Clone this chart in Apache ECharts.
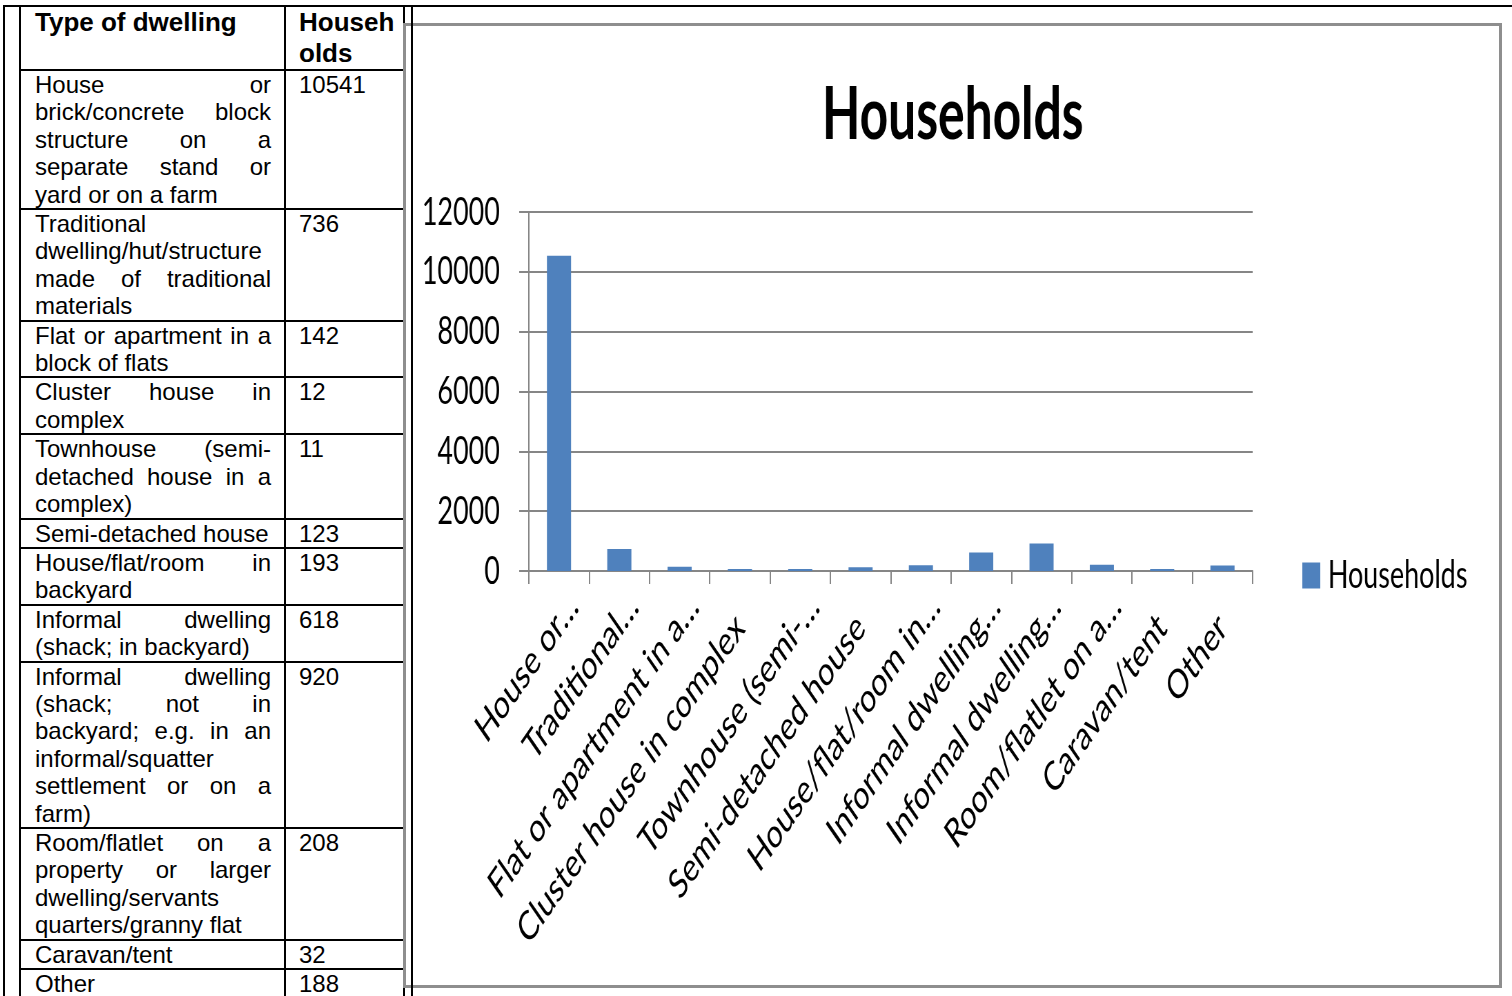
<!DOCTYPE html>
<html>
<head>
<meta charset="utf-8">
<title>Households by type of dwelling</title>
<script src="https://cdn.jsdelivr.net/npm/echarts@6/dist/echarts.min.js"></script>
<style>
  html, body { margin: 0; padding: 0; background: #fff; }
  body { width: 1512px; height: 996px; overflow: hidden; position: relative; }
  .rule { position: absolute; background: #000; z-index: 5; }
  #table {
    position: absolute; left: 19px; top: 5px;
    border-collapse: collapse; table-layout: fixed; width: 386px;
    font-family: 'Liberation Sans', Arial, sans-serif; font-size: 24px; color: #000;
  }
  #table td, #table th { border: 2px solid #000; vertical-align: top; padding: 0; }
  #table th { font-weight: bold; font-size: 26px; line-height: 31px; text-align: left; }
  #table td { line-height: 27.4px; }
  #table .name { padding: 0 13px 0 14px; text-align: justify; }
  #table .num { padding: 0 0 0 13px; }
  #frame {
    position: absolute; left: 403px; top: 23px; width: 1099px; height: 965px;
    box-sizing: border-box; border: 3px solid #8e8e8e; background: #fff; z-index: 2;
  }
  /* the chart is drawn wide and narrowed horizontally to fit its frame */
  #chart {
    position: absolute; left: 406px; top: 26px; width: 1585px; height: 959px;
    transform: scaleX(0.69); transform-origin: 0 0; z-index: 3;
  }
</style>
</head>
<body>
<div class="rule" style="left:3px;top:5px;width:1509px;height:2px;"></div>
<div class="rule" style="left:3px;top:5px;width:2px;height:991px;"></div>
<div class="rule" style="left:411px;top:5px;width:2px;height:991px;"></div>

<table id="table">
  <colgroup><col style="width:265px"><col style="width:119px"></colgroup>
  <thead><tr><th class="name">Type of dwelling</th><th class="num">Househ<br>olds</th></tr></thead>
  <tbody></tbody>
</table>

<div id="frame"></div>
<div id="chart"></div>

<script>
// Type of dwelling (full names, used in the table and as axis categories)
const dwellingTypes = [
  'House or brick/concrete block structure on a separate stand or yard or on a farm',
  'Traditional dwelling/hut/structure made of traditional materials',
  'Flat or apartment in a block of flats',
  'Cluster house in complex',
  'Townhouse (semi-detached house in a complex)',
  'Semi-detached house',
  'House/flat/room in backyard',
  'Informal dwelling (shack; in backyard)',
  'Informal dwelling (shack; not in backyard; e.g. in an informal/squatter settlement or on a farm)',
  'Room/flatlet on a property or larger dwelling/servants quarters/granny flat',
  'Caravan/tent',
  'Other'
];

// Number of households per dwelling type
const households = [10541, 736, 142, 12, 11, 123, 193, 618, 920, 208, 32, 188];

// Shortened category labels shown under the bars
const axisLabels = [
  'House or…',
  'Traditional…',
  'Flat or apartment in a…',
  'Cluster house in complex',
  'Townhouse (semi-…',
  'Semi-detached house',
  'House/flat/room in…',
  'Informal dwelling…',
  'Informal dwelling…',
  'Room/flatlet on a…',
  'Caravan/tent',
  'Other'
];

// Value axis range
const yMin = 0;
const yMax = 12000;
const yStep = 2000;

// Table rows
const tbody = document.querySelector('#table tbody');
dwellingTypes.forEach(function (name, i) {
  const tr = document.createElement('tr');
  const tdName = document.createElement('td');
  tdName.className = 'name';
  tdName.textContent = name;
  const tdNum = document.createElement('td');
  tdNum.className = 'num';
  tdNum.textContent = String(households[i]);
  tr.appendChild(tdName);
  tr.appendChild(tdNum);
  tbody.appendChild(tr);
});

// Bar chart
const font = 'Lato, "Open Sans", sans-serif';
const gridGray = '#868686';
const chart = echarts.init(document.getElementById('chart'), null, { renderer: 'canvas' });
chart.setOption({
  backgroundColor: 'transparent',
  animation: false,
  title: {
    text: 'Households',
    left: 'center',
    top: 49,
    textStyle: { fontFamily: font, fontSize: 72, fontWeight: 'bold', color: '#000' }
  },
  legend: {
    data: ['Households'],
    left: 1299,
    top: 530,
    padding: 0,
    icon: 'rect',
    itemWidth: 26,
    itemHeight: 26,
    textStyle: { fontFamily: font, fontSize: 39, color: '#000', padding: [0, 0, 0, 6] }
  },
  grid: { left: 178, top: 186, width: 1049, height: 359, outerBoundsMode: 'none' },
  xAxis: {
    type: 'category',
    data: dwellingTypes,
    axisLine: { lineStyle: { color: gridGray, width: 2 } },
    axisTick: { show: true, length: 13, alignWithLabel: false, lineStyle: { color: gridGray, width: 2 } },
    axisLabel: {
      interval: 0,
      rotate: 45,
      margin: 50,
      fontFamily: font,
      fontSize: 40.5,
      color: '#000',
      // truncated labels run a little past their tick
      formatter: function (value, index) {
        const s = axisLabels[index];
        return s.endsWith('…') ? '{cut|' + s + '}' : s;
      },
      rich: {
        cut: { fontFamily: font, fontSize: 40.5, color: '#000', padding: [0, -30, 0, 0] }
      }
    },
    splitLine: { show: false }
  },
  yAxis: {
    type: 'value',
    min: yMin,
    max: yMax,
    interval: yStep,
    axisLine: { show: true, lineStyle: { color: gridGray, width: 2 } },
    axisTick: { show: true, length: 14, lineStyle: { color: gridGray, width: 2 } },
    axisLabel: {
      margin: 42, fontFamily: font, fontSize: 39, color: '#000',
      formatter: function (v) { return String(v); }
    },
    splitLine: { show: true, lineStyle: { color: gridGray, width: 2 } }
  },
  series: [{
    name: 'Households',
    type: 'bar',
    data: households,
    barWidth: '40%',
    barMinHeight: 2,
    itemStyle: { color: '#4f81bd' }
  }]
});
</script>
</body>
</html>
